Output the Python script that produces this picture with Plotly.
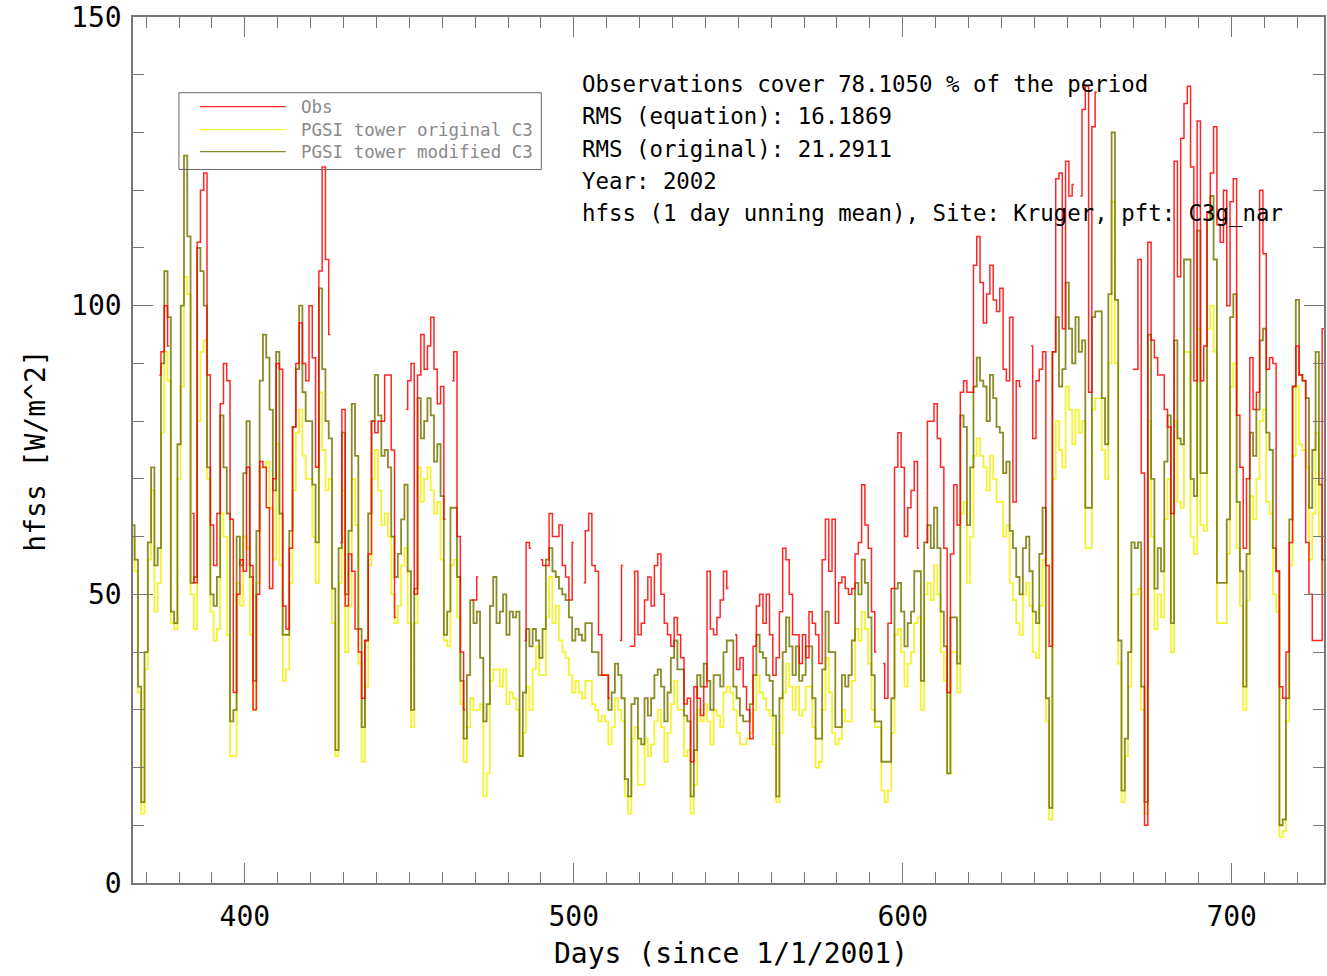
import plotly.graph_objects as go

N = None
start_day = 366

modified_c3 = [
62,56,34,14,40,59,72,55,58,90,106,98,47,45,76,100,126,112,52,53,110,106,100,72,50,48,53,81,72,64,
28,30,60,55,71,80,53,35,61,87,95,91,82,68,92,64,43,43,61,79,89,100,85,80,80,69,59,103,89,80,
77,51,23,58,78,50,61,83,74,44,27,42,64,80,88,81,74,75,72,60,53,57,63,69,54,30,51,84,77,80,
84,81,73,76,67,43,47,65,65,53,35,25,36,49,45,47,39,28,31,48,53,45,47,50,43,47,46,47,22,33,44,
41,44,42,39,44,56,58,54,53,51,50,49,46,42,44,43,42,45,45,40,40,36,36,36,30,33,38,36,32,18,15,
31,32,25,24,32,29,32,36,37,34,28,33,39,42,37,37,29,28,15,23,36,34,38,35,30,36,36,34,40,42,
42,34,32,29,28,28,31,36,43,40,39,36,35,29,15,32,40,46,41,36,41,35,36,41,41,32,25,25,37,47,
40,40,27,27,36,34,36,42,52,50,56,52,46,36,28,28,21,21,21,32,51,52,47,41,45,47,54,54,35,59,
62,58,65,58,47,41,19,46,46,38,81,79,62,72,86,91,87,86,80,88,84,79,78,71,73,61,58,53,50,58,
60,54,47,45,57,65,32,13,92,98,86,89,104,96,90,98,92,94,65,65,98,99,99,84,76,102,130,101,42,16,
25,40,59,58,59,34,14,95,70,51,58,54,73,81,45,94,77,76,108,108,70,67,113,71,71,115,119,108,52,52,
52,63,98,102,66,54,34,57,78,74,82,94,96,78,75,58,54,10,11,32,63,86,101,88,87,84,65,75,92,69,56,
]

original_c3 = [
60,54,33,12,37,56,68,47,52,78,92,87,45,44,70,86,105,102,50,44,80,92,94,70,47,42,44,64,60,43,
22,22,52,48,60,58,43,30,52,72,72,73,65,56,76,55,35,37,52,68,78,82,74,70,70,60,52,85,75,68,
70,45,22,52,68,40,48,70,62,38,21,34,55,70,75,68,62,64,60,50,45,48,55,58,45,27,45,72,66,70,
72,68,64,66,56,42,41,55,56,46,31,21,27,32,30,30,31,15,19,35,37,37,34,37,31,33,32,30,22,26,34,
30,37,41,36,36,46,53,45,48,42,40,39,36,33,35,33,32,35,35,31,30,28,29,28,24,27,32,30,28,15,12,
25,27,17,17,25,22,24,28,30,27,21,26,31,35,30,30,22,23,12,17,30,28,31,28,24,30,29,27,33,34,
33,30,26,24,24,25,26,30,36,33,32,30,29,24,14,26,33,38,34,30,34,29,30,34,34,27,20,21,30,39,
33,26,24,25,30,28,28,35,44,42,47,44,38,30,27,27,16,14,16,26,43,44,40,34,38,40,45,46,30,50,
52,49,55,50,40,35,19,40,40,33,64,66,52,60,74,77,74,72,68,74,70,66,66,60,62,52,49,45,43,50,
52,48,40,39,48,56,28,11,70,80,75,72,86,82,76,82,78,80,58,58,82,84,84,75,70,90,118,90,38,14,
22,34,50,50,51,30,12,80,60,44,50,46,63,70,40,80,66,65,92,92,60,57,96,62,61,96,100,92,45,45,
45,57,86,90,58,48,30,49,67,63,70,80,82,66,64,50,47,8,9,28,55,74,86,76,75,72,56,64,78,60,50,
]

obs = [
N,N,N,N,N,N,N,N,88,92,100,93,N,N,N,N,N,N,64,52,111,120,123,88,62,55,64,83,90,87,
63,33,50,56,54,72,55,30,50,73,72,65,51,70,90,89,48,44,58,79,90,97,90,87,100,91,72,106,124,108,
95,N,N,59,82,48,57,54,44,40,32,42,57,80,78,80,80,88,88,75,46,N,N,82,87,90,50,88,95,89,
93,98,89,83,86,63,N,87,92,60,40,30,N,49,49,53,N,N,N,N,N,N,N,N,N,N,N,N,N,42,59,
58,N,N,56,55,55,64,60,60,62,55,53,49,59,N,N,52,61,64,55,54,43,36,36,32,N,N,42,55,N,41,
41,54,43,45,49,53,48,55,57,50,45,43,41,46,43,39,31,32,21,34,32,29,34,54,44,43,46,49,54,51,
N,43,37,39,34,30,25,41,48,50,45,50,43,36,39,47,58,56,50,43,43,38,43,39,47,45,43,38,56,63,
54,63,45,52,53,51,50,51,57,59,69,62,58,47,40,N,38,32,45,51,72,78,72,60,65,68,73,58,N,59,
80,80,83,77,72,58,33,57,69,62,85,87,85,85,107,112,104,97,102,107,101,99,103,89,87,98,66,87,86,N,
N,93,77,87,89,92,55,41,92,122,123,96,125,119,121,N,119,134,138,85,131,137,N,N,N,N,N,N,N,N,
N,N,89,89,108,71,10,111,94,91,88,88,82,79,64,125,105,129,135,138,124,87,132,87,93,116,123,131,114,111,
120,100,118,122,81,72,58,70,91,82,85,120,109,89,91,90,54,34,32,40,59,86,93,88,87,59,50,42,42,42,96,
]

days = list(range(start_day, start_day + len(modified_c3)))

series_names = ["Obs", "PGSI tower original C3", "PGSI tower modified C3"]
info_lines = [
    "Observations cover 78.1050 % of the period",
    "RMS (equation): 16.1869",
    "RMS (original): 21.2911",
    "Year: 2002",
    "hfss (1 day unning mean), Site: Kruger, pft: C3g_nar",
]

W, H = 1327, 976
L, R, T, B = 133, 1, 14, 93
PW, PH = W - L - R, H - T - B
FONT = "DejaVu Sans Mono"


def px(x):
    return (x - L) / PW


def py(y):
    return (H - B - y) / PH


RED = "rgba(255,0,0,0.85)"
YEL = "rgba(240,240,0,0.8)"
OLV = "rgba(120,120,0,0.85)"

fig = go.Figure()
fig.add_trace(go.Scatter(x=days, y=original_c3, mode="lines", name=series_names[1],
                         line=dict(color=YEL, width=1.8, shape="hvh")))
fig.add_trace(go.Scatter(x=days, y=modified_c3, mode="lines", name=series_names[2],
                         line=dict(color=OLV, width=1.8, shape="hvh")))
fig.add_trace(go.Scatter(x=days, y=obs, mode="lines", name=series_names[0],
                         line=dict(color=RED, width=1.5, shape="hvh")))

axis_common = dict(
    showgrid=False, zeroline=False, showline=True, linecolor="#777", linewidth=1.5,
    mirror="allticks", ticks="inside", tickcolor="#777", tickwidth=1.2, ticklen=20,
    tickfont=dict(family=FONT, size=28, color="black"), ticklabeloverflow="allow",
)
fig.update_xaxes(range=[366, 366 + PW / 3.295], tick0=0, dtick=100,
                 minor=dict(dtick=10, ticks="inside", ticklen=11, tickcolor="#777", tickwidth=1.1),
                 ticklabelstandoff=8, **axis_common)
fig.update_yaxes(range=[0, 150.001], tick0=0, dtick=50,
                 minor=dict(dtick=10, ticks="inside", ticklen=11, tickcolor="#777", tickwidth=1.1),
                 ticklabelstandoff=4, **axis_common)

ann = []
for i, t in enumerate(info_lines):
    ann.append(dict(x=px(581), y=py(81 + i * 32.5), xref="paper", yref="paper",
                    text=t, showarrow=False, xanchor="left", yanchor="middle",
                    font=dict(family=FONT, size=22.4, color="black")))
ann.append(dict(x=px(732), y=py(954), xref="paper", yref="paper", text="Days (since 1/1/2001)",
                showarrow=False, xanchor="center", yanchor="middle",
                font=dict(family=FONT, size=28, color="black")))
ann.append(dict(x=px(35), y=py(449), xref="paper", yref="paper", text="hfss [W/m^2]",
                showarrow=False, xanchor="center", yanchor="middle", textangle=-90,
                font=dict(family=FONT, size=28, color="black")))

shapes = [dict(type="rect", xref="paper", yref="paper", x0=px(179), x1=px(542),
               y0=py(167), y1=py(90), line=dict(color="#666", width=1), fillcolor="rgba(0,0,0,0)")]
leg_cols = [RED, YEL, OLV]
leg_y = [104, 127, 149]
for name, col, yy in zip(series_names, leg_cols, leg_y):
    shapes.append(dict(type="line", xref="paper", yref="paper", x0=px(200), x1=px(286),
                       y0=py(yy), y1=py(yy), line=dict(color=col, width=1.2)))
    ann.append(dict(x=px(299), y=py(yy), xref="paper", yref="paper", text=name,
                    showarrow=False, xanchor="left", yanchor="middle",
                    font=dict(family=FONT, size=17.5, color="#8a8a8a")))

fig.update_layout(
    width=W, height=H, margin=dict(l=L, r=R, t=T, b=B),
    paper_bgcolor="white", plot_bgcolor="white", showlegend=False,
    annotations=ann, shapes=shapes,
)

fig.write_html("out.html")
